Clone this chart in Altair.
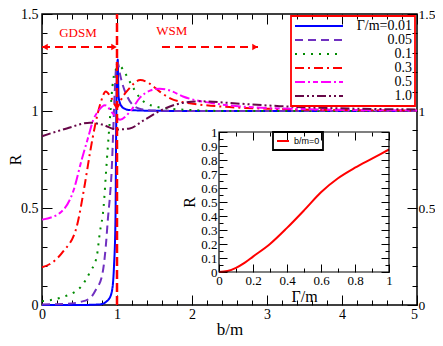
import altair as alt
import pandas as pd

SERIF = "Liberation Serif"
SANS = "Liberation Sans"

# ---------------- data ----------------
GAMMA_LABELS = ["Γ/m=0.01", "0.05", "0.1", "0.3", "0.5", "1.0"]

B_001 = [0, 0.5, 0.77, 0.88, 0.93, 0.96, 0.98, 0.99, 1.0, 1.01, 1.02, 1.04, 1.06, 1.1, 1.17, 1.5, 2, 3, 4, 5]
R_001 = [0, 0.0, 0.003, 0.025, 0.067, 0.2, 0.45, 0.95, 1.2, 1.265, 1.08, 1.04, 1.025, 1.012, 1.005, 1.001, 1.0, 1.0, 1.0, 1.0]

B_005 = [0, 0.3, 0.5, 0.64, 0.72, 0.8, 0.85, 0.88, 0.91, 0.93, 0.95, 0.97, 0.99, 1.01, 1.04, 1.08, 1.13, 1.2, 1.3, 1.5, 2, 3, 4, 5]
R_005 = [0.003, 0.005, 0.015, 0.035, 0.08, 0.15, 0.3, 0.45, 0.58, 0.7, 0.9, 1.1, 1.23, 1.25, 1.19, 1.13, 1.08, 1.035, 1.012, 1.002, 1.0, 1.0, 1.0, 1.0]

B_01 = [0, 0.24, 0.51, 0.64, 0.73, 0.77, 0.82, 0.86, 0.9, 0.94, 0.98, 1.04, 1.1, 1.2, 1.3, 1.45, 1.75, 2.5, 5]
R_01 = [0.02, 0.037, 0.09, 0.17, 0.25, 0.37, 0.5, 0.72, 0.93, 1.13, 1.21, 1.23, 1.2, 1.13, 1.07, 1.03, 1.01, 1.0, 1.0]

B_03 = [0, 0.1, 0.28, 0.46, 0.57, 0.64, 0.71, 0.78, 0.85, 0.92, 1.0, 1.07, 1.15, 1.31, 1.44, 1.57, 1.71, 1.88, 2.06, 2.5, 3, 4, 5]
R_03 = [0.195, 0.21, 0.275, 0.4, 0.62, 0.785, 0.93, 1.04, 1.1, 1.07, 1.02, 1.07, 1.11, 1.16, 1.14, 1.1, 1.065, 1.045, 1.035, 1.02, 1.012, 1.005, 1.003]

B_05 = [0, 0.24, 0.42, 0.53, 0.62, 0.68, 0.75, 0.84, 0.94, 1.04, 1.17, 1.31, 1.44, 1.57, 1.71, 1.88, 2.28, 2.86, 3.5, 4, 5]
R_05 = [0.44, 0.475, 0.59, 0.75, 0.87, 0.95, 1.0, 1.03, 0.99, 0.955, 0.995, 1.07, 1.105, 1.115, 1.105, 1.075, 1.04, 1.018, 1.01, 1.006, 1.003]

B_10 = [0, 0.33, 0.64, 0.8, 1.0, 1.17, 1.35, 1.57, 1.8, 2.1, 2.55, 3.17, 3.84, 4.5, 5]
R_10 = [0.87, 0.91, 0.94, 0.93, 0.905, 0.91, 0.95, 1.0, 1.035, 1.05, 1.04, 1.025, 1.015, 1.01, 1.008]

# inset: R at b/m = 0 versus Gamma/m
G_INSET = [0, 0.05, 0.1, 0.15, 0.2, 0.3, 0.4, 0.5, 0.6, 0.7, 0.8, 0.9, 1.0]
R_INSET = [0, 0.007, 0.03, 0.065, 0.11, 0.2, 0.315, 0.44, 0.57, 0.67, 0.745, 0.81, 0.875]
INSET_LABEL = ["b/m=0"]

# annotations (data coordinates)
ARROW_X0 = [0.0, 1.6]
ARROW_X1 = [1.0, 2.88]
ARROW_Y = [1.33, 1.33]
HEAD_X = [0.04, 0.96, 2.84]
HEAD_Y = [1.33, 1.33, 1.33]
HEAD_DIR = ["left", "right", "right"]
TEXT_X = [0.48, 1.73]
TEXT_Y = [1.4, 1.41]
TEXT_S = ["GDSM", "WSM"]
PHASE_B = [1.0]

# tick values
X_MAJOR = [0, 1, 2, 3, 4, 5]
X_MINOR = [0.2, 0.4, 0.6, 0.8, 1.2, 1.4, 1.6, 1.8, 2.2, 2.4, 2.6, 2.8,
           3.2, 3.4, 3.6, 3.8, 4.2, 4.4, 4.6, 4.8]
Y_MAJOR = [0, 0.5, 1, 1.5]
Y_MINOR = [0.1, 0.2, 0.3, 0.4, 0.6, 0.7, 0.8, 0.9, 1.1, 1.2, 1.3, 1.4]
IX_MAJOR = [0, 0.2, 0.4, 0.6, 0.8, 1]
IX_MINOR = [0.1, 0.3, 0.5, 0.7, 0.9]
IY_MAJOR = [0, 0.1, 0.2, 0.3, 0.4, 0.5, 0.6, 0.7, 0.8, 0.9, 1]
IY_MINOR = [0.05, 0.15, 0.25, 0.35, 0.45, 0.55, 0.65, 0.75, 0.85, 0.95]

# styles
COLORS = ["#0000ff", "#7030c0", "#008b00", "#ff0000", "#ff00ff", "#670748"]
DASHES = [[1, 0], [8, 5], [2, 6], [9, 4, 2, 4], [10, 3, 2, 3, 5, 3], [9, 3, 2, 3, 2, 3]]

# ---------------- tables ----------------
series = [(GAMMA_LABELS[0], B_001, R_001), (GAMMA_LABELS[1], B_005, R_005),
          (GAMMA_LABELS[2], B_01, R_01), (GAMMA_LABELS[3], B_03, R_03),
          (GAMMA_LABELS[4], B_05, R_05), (GAMMA_LABELS[5], B_10, R_10)]
rows = []
for g, bs, rs in series:
    for b, r in zip(bs, rs):
        rows.append({"g": g, "b": b, "R": r})
df_main = pd.DataFrame(rows)
df_arrow = pd.DataFrame({"x0": ARROW_X0, "x1": ARROW_X1, "y": ARROW_Y})
df_head = pd.DataFrame({"x": HEAD_X, "y": HEAD_Y, "dir": HEAD_DIR})
df_text = pd.DataFrame({"x": TEXT_X, "y": TEXT_Y, "t": TEXT_S})
df_v = pd.DataFrame({"x": PHASE_B, "y0": [Y_MAJOR[0]], "y1": [Y_MAJOR[-1]]})
df_in = pd.DataFrame({"G": G_INSET, "Ri": R_INSET, "lab": INSET_LABEL * len(G_INSET)})
df_frame = pd.DataFrame({"fx0": [IX_MAJOR[0]], "fx1": [IX_MAJOR[-1]],
                         "fy0": [IY_MAJOR[0]], "fy1": [IY_MAJOR[-1]]})

# ---------------- layout ----------------
W, H = 375, 291
IN_X = [177, 347]   # inset pixel range inside the plot
IN_Y = [258, 118]

xs = alt.Scale(domain=[0, 5], nice=False, zero=False)
ys = alt.Scale(domain=[0, 1.5], nice=False, zero=False)
xi = alt.Scale(domain=[0, 1], range=IN_X, nice=False, zero=False)
yi = alt.Scale(domain=[0, 1], range=IN_Y, nice=False, zero=False)


def axis(orient, values, T, base=0, labels=False, title=None, fsize=14,
         lpad=3, tfsize=17, tpad=3, tbase="", loff=None):
    # inward ticks: shift the axis line inside by the tick length
    kw = dict(orient=orient, values=values, tickSize=T, offset=-(base + T),
              domain=False, grid=False, ticks=True, tickColor="black",
              tickWidth=1, labels=labels, labelFlush=False,
              labelOverlap=False, minExtent=0, format="~g",
              labelFont=SERIF, labelFontSize=fsize, labelColor="black",
              labelPadding=lpad, titleFont=SERIF, titleFontSize=tfsize,
              titleFontWeight="normal", titleColor="black",
              titlePadding=tpad, title=title)
    if tbase:
        kw["titleBaseline"] = tbase
    if loff is not None:
        kw["labelOffset"] = loff
    return alt.Axis(**kw)


AX_B_MAJ = axis("bottom", X_MAJOR, 10, labels=True, title="b/m", lpad=2, tfsize=17,
                tpad=13, tbase="alphabetic",
                loff={"condition": {"test": "datum.value === 5", "value": -3}, "value": 0})
AX_B_MIN = axis("bottom", X_MINOR, 5)
AX_T_MAJ = axis("top", X_MAJOR, 10)
AX_T_MIN = axis("top", X_MINOR, 5)
AX_L_MAJ = axis("left", Y_MAJOR, 10, labels=True, title="R", lpad=4, tfsize=16,
                tpad=0, tbase="alphabetic")
AX_L_MIN = axis("left", Y_MINOR, 5)
AX_R_MAJ = axis("right", Y_MAJOR, 10, labels=True, lpad=1, fsize=13.5)
AX_R_MIN = axis("right", Y_MINOR, 5)

IB = H - IN_Y[0]
IR = W - IN_X[1]
I_B_MAJ = axis("bottom", IX_MAJOR, 8, base=IB, labels=True, title="Γ/m", fsize=13,
               lpad=2, tfsize=16, tpad=1)
I_B_MIN = axis("bottom", IX_MINOR, 4, base=IB)
I_T_MAJ = axis("top", IX_MAJOR, 8, base=IN_Y[1])
I_T_MIN = axis("top", IX_MINOR, 4, base=IN_Y[1])
I_L_MAJ = axis("left", IY_MAJOR, 8, base=IN_X[0], labels=True, title="R", fsize=13,
               lpad=2, tfsize=16, tpad=3)
I_L_MIN = axis("left", IY_MINOR, 4, base=IN_X[0])
I_R_MAJ = axis("right", IY_MAJOR, 8, base=IR)
I_R_MIN = axis("right", IY_MINOR, 4, base=IR)

LEG = alt.Legend(orient="top-right", offset=2, title=None, symbolType="stroke",
                 symbolSize=2304, symbolStrokeWidth=2, labelAlign="right",
                 labelOffset=68, labelFont=SERIF, labelFontSize=14,
                 labelColor="black", strokeColor="red", padding=3,
                 rowPadding=0, clipHeight=14)
LEG_IN = alt.Legend(orient="none", legendX=231, legendY=118, title=None,
                    symbolType="stroke", symbolSize=144, symbolStrokeWidth=2,
                    labelFont=SANS, labelFontSize=9, labelColor="black",
                    strokeColor="black", padding=3, rowPadding=0,
                    clipHeight=12, labelOffset=4)

# ---------------- main panel ----------------
curves = alt.Chart(df_main).mark_line(strokeWidth=2, interpolate="monotone").encode(
    x=alt.X("b:Q", scale=xs, axis=AX_B_MAJ),
    y=alt.Y("R:Q", scale=ys, axis=AX_L_MAJ),
    color=alt.Color("g:N", scale=alt.Scale(domain=GAMMA_LABELS, range=COLORS), legend=LEG),
    strokeDash=alt.StrokeDash("g:N", scale=alt.Scale(domain=GAMMA_LABELS, range=DASHES), legend=LEG),
)
arrows = alt.Chart(df_arrow).mark_rule(color="red", strokeWidth=2, strokeDash=[8, 5]).encode(
    x=alt.X("x0:Q", scale=xs, axis=AX_B_MIN),
    x2="x1:Q",
    y=alt.Y("y:Q", scale=ys, axis=AX_L_MIN),
)
heads = alt.Chart(df_head).mark_point(filled=True, color="red", size=40, opacity=1).encode(
    x=alt.X("x:Q", scale=xs, axis=AX_T_MAJ),
    y=alt.Y("y:Q", scale=ys, axis=AX_R_MAJ),
    shape=alt.Shape("dir:N", scale=alt.Scale(domain=["left", "right"],
                                             range=["triangle-left", "triangle-right"]),
                    legend=None),
)
texts = alt.Chart(df_text).mark_text(font=SERIF, fontSize=13, color="red").encode(
    x=alt.X("x:Q", scale=xs, axis=AX_T_MIN),
    y=alt.Y("y:Q", scale=ys, axis=AX_R_MIN),
    text="t:N",
)
vline = alt.Chart(df_v).mark_rule(color="red", strokeWidth=2.5, strokeDash=[9, 4]).encode(
    x=alt.X("x:Q", scale=xs, axis=None),
    y=alt.Y("y0:Q", scale=ys, axis=None),
    y2="y1:Q",
)
main = alt.layer(curves, arrows, heads, texts, vline).resolve_axis(x="independent", y="independent")

# ---------------- inset ----------------
in_curve = alt.Chart(df_in).mark_line(strokeWidth=2, interpolate="monotone").encode(
    x=alt.X("G:Q", scale=xi, axis=I_B_MAJ),
    y=alt.Y("Ri:Q", scale=yi, axis=I_L_MAJ),
    color=alt.Color("lab:N", scale=alt.Scale(domain=INSET_LABEL, range=["#ff0000"]), legend=LEG_IN),
)
in_frame = alt.Chart(df_frame).mark_rect(fillOpacity=0, stroke="black", strokeWidth=1.2).encode(
    x=alt.X("fx0:Q", scale=xi, axis=I_B_MIN),
    x2="fx1:Q",
    y=alt.Y("fy0:Q", scale=yi, axis=I_L_MIN),
    y2="fy1:Q",
)
in_ax1 = alt.Chart(df_in).mark_point(opacity=0).encode(
    x=alt.X("G:Q", scale=xi, axis=I_T_MAJ),
    y=alt.Y("Ri:Q", scale=yi, axis=I_R_MAJ),
)
in_ax2 = alt.Chart(df_in).mark_point(opacity=0).encode(
    x=alt.X("G:Q", scale=xi, axis=I_T_MIN),
    y=alt.Y("Ri:Q", scale=yi, axis=I_R_MIN),
)
inset = alt.layer(in_curve, in_frame, in_ax1, in_ax2).resolve_axis(x="independent", y="independent")

chart = alt.layer(main, inset).resolve_scale(
    x="independent", y="independent", color="independent",
    strokeDash="independent", shape="independent"
).properties(
    width=W, height=H,
    autosize=alt.AutoSizeParams(type="none"),
    padding={"left": 34, "top": 6, "right": 18, "bottom": 33},
).configure_view(stroke="black", strokeWidth=1.5).configure_legend(strokeWidth=1.8)

chart.save("out.html", embed_options={"renderer": "svg", "actions": False})
